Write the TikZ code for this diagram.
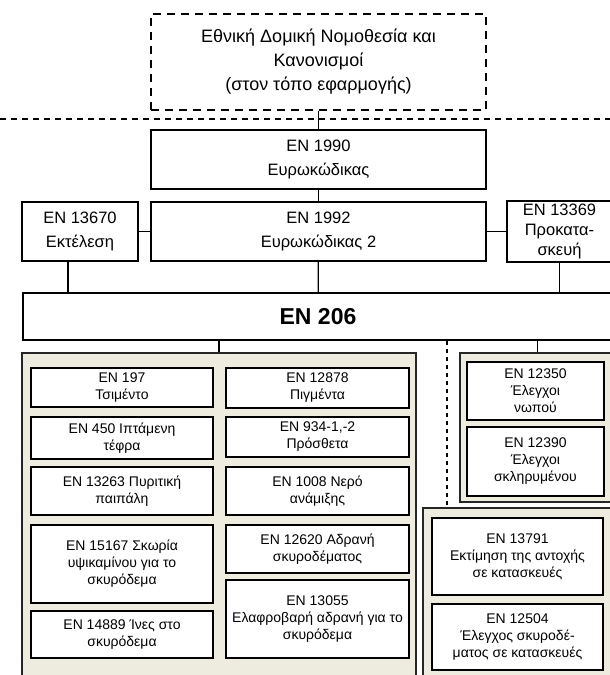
\documentclass[tikz,border=0pt]{standalone}
\usepackage{fontspec}
\setmainfont{Liberation Sans}
\usetikzlibrary{positioning}
\definecolor{tanfill}{RGB}{238,236,222}
\tikzstyle{legal} = [rectangle, draw=black, line width=2.2pt, dash pattern=on 8pt off 6pt, align=center, font=\fontsize{18}{24}\selectfont]
\tikzstyle{norm} = [rectangle, draw=black, line width=2pt, fill=white, align=center, font=\fontsize{16.5}{23.5}\selectfont]
\tikzstyle{group} = [rectangle, draw=black!85, line width=2.6pt, fill=tanfill]
\tikzstyle{item} = [rectangle, draw=black, line width=2pt, fill=white, align=center, inner sep=1pt, font=\fontsize{14}{17}\selectfont]
\tikzstyle{link} = [line width=1.2pt]

\begin{document}
\begin{tikzpicture}[x=1pt, y=-1pt]
    \useasboundingbox (0,0) rectangle (610,675);
    % Upper part
    \node (law) [legal, minimum width=335pt, minimum height=96pt] at (318.5,62) {Εθνική Δομική Νομοθεσία και\\Κανονισμοί\\(στον τόπο εφαρμογής)};
    \draw [link, dash pattern=on 6pt off 5pt] (0,119) -- (610,119);
    \node (en1990) [norm, minimum width=335pt, minimum height=59pt] at (318.5,159.5) {EN 1990\\Ευρωκώδικας};
    \node (en1992) [norm, minimum width=335pt, minimum height=59pt] at (318.5,231.5) {EN 1992\\Ευρωκώδικας 2};
    \node (en13670) [norm, minimum width=116pt, minimum height=59pt] at (80,231.5) {EN 13670\\Εκτέλεση};
    \node (en13369) [norm, minimum width=105pt, minimum height=59pt, font=\fontsize{16.5}{20}\selectfont] at (559.5,231.5) {EN 13369\\Προκατα-\\σκευή};
    \node (en206) [norm, minimum width=590pt, minimum height=47pt, font=\fontsize{23}{24}\bfseries] at (318,316.5) {EN 206};

    % Groups of products and tests
    \node (products) [group, minimum width=394pt, minimum height=337pt] at (219,521.5) {};
    \node (tests) [group, minimum width=155pt, minimum height=149pt] at (537.5,427.5) {};
    \node (site) [group, minimum width=192pt, minimum height=182pt] at (519,599) {};
    \coordinate (split) at (447,0);

    % Products, left column
    \node (en197) [item, minimum width=182pt, minimum height=39pt] at (122,387.5) {EN 197\\Τσιμέντο};
    \node (en450) [item, minimum width=182pt, minimum height=42pt] at (122,438) {EN 450 Ιπτάμενη\\τέφρα};
    \node (en13263) [item, minimum width=182pt, minimum height=48pt] at (122,491) {EN 13263 Πυριτική\\παιπάλη};
    \node (en15167) [item, minimum width=182pt, minimum height=78pt] at (122,564) {EN 15167 Σκωρία\\υψικαμίνου για το\\σκυρόδεμα};
    \node (en14889) [item, minimum width=182pt, minimum height=47pt] at (122,634.5) {EN 14889 Ίνες στο\\σκυρόδεμα};
    % Products, right column
    \node (en12878) [item, minimum width=183pt, minimum height=40pt] at (317.5,388) {EN 12878\\Πιγμέντα};
    \node (en934) [item, minimum width=183pt, minimum height=40pt] at (317.5,437) {EN 934-1,-2\\Πρόσθετα};
    \node (en1008) [item, minimum width=183pt, minimum height=48pt] at (317.5,491) {EN 1008 Νερό\\ανάμιξης};
    \node (en12620) [item, minimum width=183pt, minimum height=48pt] at (317.5,549) {EN 12620 Αδρανή\\σκυροδέματος};
    \node (en13055) [item, minimum width=183pt, minimum height=78pt] at (317.5,619) {EN 13055\\Ελαφροβαρή αδρανή για το\\σκυρόδεμα};
    % Tests
    \node (en12350) [item, minimum width=137pt, minimum height=58pt] at (535.5,391) {EN 12350\\Έλεγχοι\\νωπού};
    \node (en12390) [item, minimum width=137pt, minimum height=69pt] at (535.5,461.5) {EN 12390\\Έλεγχοι\\σκληρυμένου};
    \node (en13791) [item, minimum width=171pt, minimum height=77pt] at (517.5,556.5) {EN 13791\\Εκτίμηση της αντοχής\\σε κατασκευές};
    \node (en12504) [item, minimum width=171pt, minimum height=66pt] at (517.5,637) {EN 12504\\Έλεγχος σκυροδέ-\\ματος σε κατασκευές};

    % Connect nodes
    \draw [link] (law) -- (en1990);
    \draw [link] (en1990) -- (en1992);
    \draw [link] (en13670) -- (en1992);
    \draw [link] (en1992) -- (en13369);
    \draw [link] ([xshift=-12pt]en13670.south) -- ([xshift=-12pt]en13670.south |- en206.north);
    \draw [link] (en1992) -- (en206);
    \draw [link] (en13369.south) -- (en13369.south |- en206.north);
    \draw [link] (products.north |- en206.south) -- (products.north);
    \draw [link] (tests.north |- en206.south) -- (tests.north);
    \draw [link, dash pattern=on 4pt off 4pt] (split |- en206.south) -- (split |- site.north);
\end{tikzpicture}
\end{document}
